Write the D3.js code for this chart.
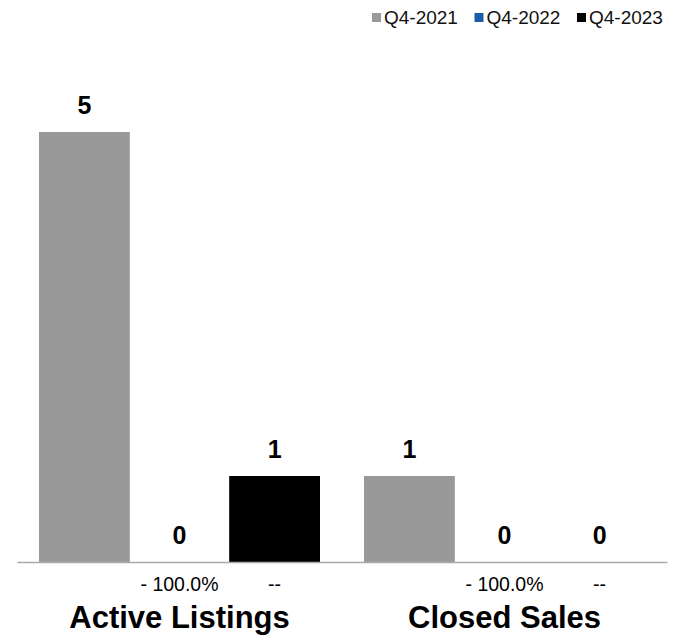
<!DOCTYPE html>
<html>
<head>
<meta charset="utf-8">
<script src="https://cdn.jsdelivr.net/npm/d3@7"></script>
<style>
  html, body { margin: 0; padding: 0; background: #fff; }
  svg { display: block; font-family: "Liberation Sans", Arial, Helvetica, sans-serif; }
</style>
</head>
<body>
<svg id="chart" width="683" height="637"></svg>
<script>
// ---- data ----
const categories = ["Active Listings", "Closed Sales"];
const seriesNames = ["Q4-2021", "Q4-2022", "Q4-2023"];
const seriesColors = ["#999999", "#1a5ea8", "#000000"];
const activeListings = [5, 0, 1];
const closedSales = [1, 0, 0];
const activeChange = ["", "- 100.0%", "--"];
const closedChange = ["", "- 100.0%", "--"];

const table = [
  { cat: categories[0], values: activeListings, changes: activeChange },
  { cat: categories[1], values: closedSales, changes: closedChange }
];

// ---- layout ----
const svg = d3.select("#chart");
const left = 17, right = 667, baseY = 562, topY = 132;

const x0 = d3.scaleBand().domain(categories).range([left, right]).padding(0);
const x1 = d3.scaleBand().domain(seriesNames)
  .range([22, x0.bandwidth() - 22]).paddingInner(0.045).paddingOuter(0);
const y = d3.scaleLinear().domain([0, 5]).range([baseY, topY]);
const color = d3.scaleOrdinal().domain(seriesNames).range(seriesColors);

const groups = svg.selectAll("g.grp").data(table).enter().append("g")
  .attr("class", "grp")
  .attr("transform", d => `translate(${x0(d.cat)},0)`);

const items = d => seriesNames.map((s, i) => ({ s, v: d.values[i], c: d.changes[i] }));

groups.selectAll("rect").data(items).enter().append("rect")
  .attr("x", d => x1(d.s))
  .attr("width", x1.bandwidth())
  .attr("y", d => y(d.v))
  .attr("height", d => baseY - y(d.v))
  .attr("fill", d => color(d.s));

groups.selectAll("text.val").data(items).enter().append("text")
  .attr("class", "val")
  .attr("x", d => x1(d.s) + x1.bandwidth() / 2)
  .attr("y", d => y(d.v) - 18)
  .attr("text-anchor", "middle")
  .attr("font-size", 25).attr("font-weight", "bold").attr("fill", "#000")
  .text(d => d3.format("d")(d.v));

groups.selectAll("text.chg").data(items).enter().append("text")
  .attr("class", "chg")
  .attr("x", d => x1(d.s) + x1.bandwidth() / 2)
  .attr("y", 591)
  .attr("text-anchor", "middle")
  .attr("font-size", 19.5).attr("fill", "#000")
  .text(d => d.c);

// axis line via d3 axis
const xAxis = d3.axisBottom(x0).tickSize(0).tickFormat("");
const axisG = svg.append("g").attr("transform", `translate(0,${baseY})`).call(xAxis);
axisG.select(".domain").attr("stroke", "#aaaaaa").attr("stroke-width", 1.5);

// category labels
svg.selectAll("text.cat").data(categories).enter().append("text")
  .attr("class", "cat")
  .attr("x", d => x0(d) + x0.bandwidth() / 2)
  .attr("y", 628)
  .attr("text-anchor", "middle")
  .attr("font-size", 31).attr("font-weight", "bold").attr("fill", "#000")
  .text(d => d);

// legend
const legendX = d3.scalePoint().domain(seriesNames).range([372, 577]);
const lg = svg.selectAll("g.leg").data(seriesNames).enter().append("g")
  .attr("class", "leg")
  .attr("transform", d => `translate(${legendX(d)},0)`);
lg.append("rect").attr("x", 0).attr("y", 13).attr("width", 9).attr("height", 9)
  .attr("fill", d => color(d));
lg.append("text").attr("x", 12).attr("y", 24)
  .attr("font-size", 19).attr("fill", "#111")
  .text(d => d);
</script>
</body>
</html>
